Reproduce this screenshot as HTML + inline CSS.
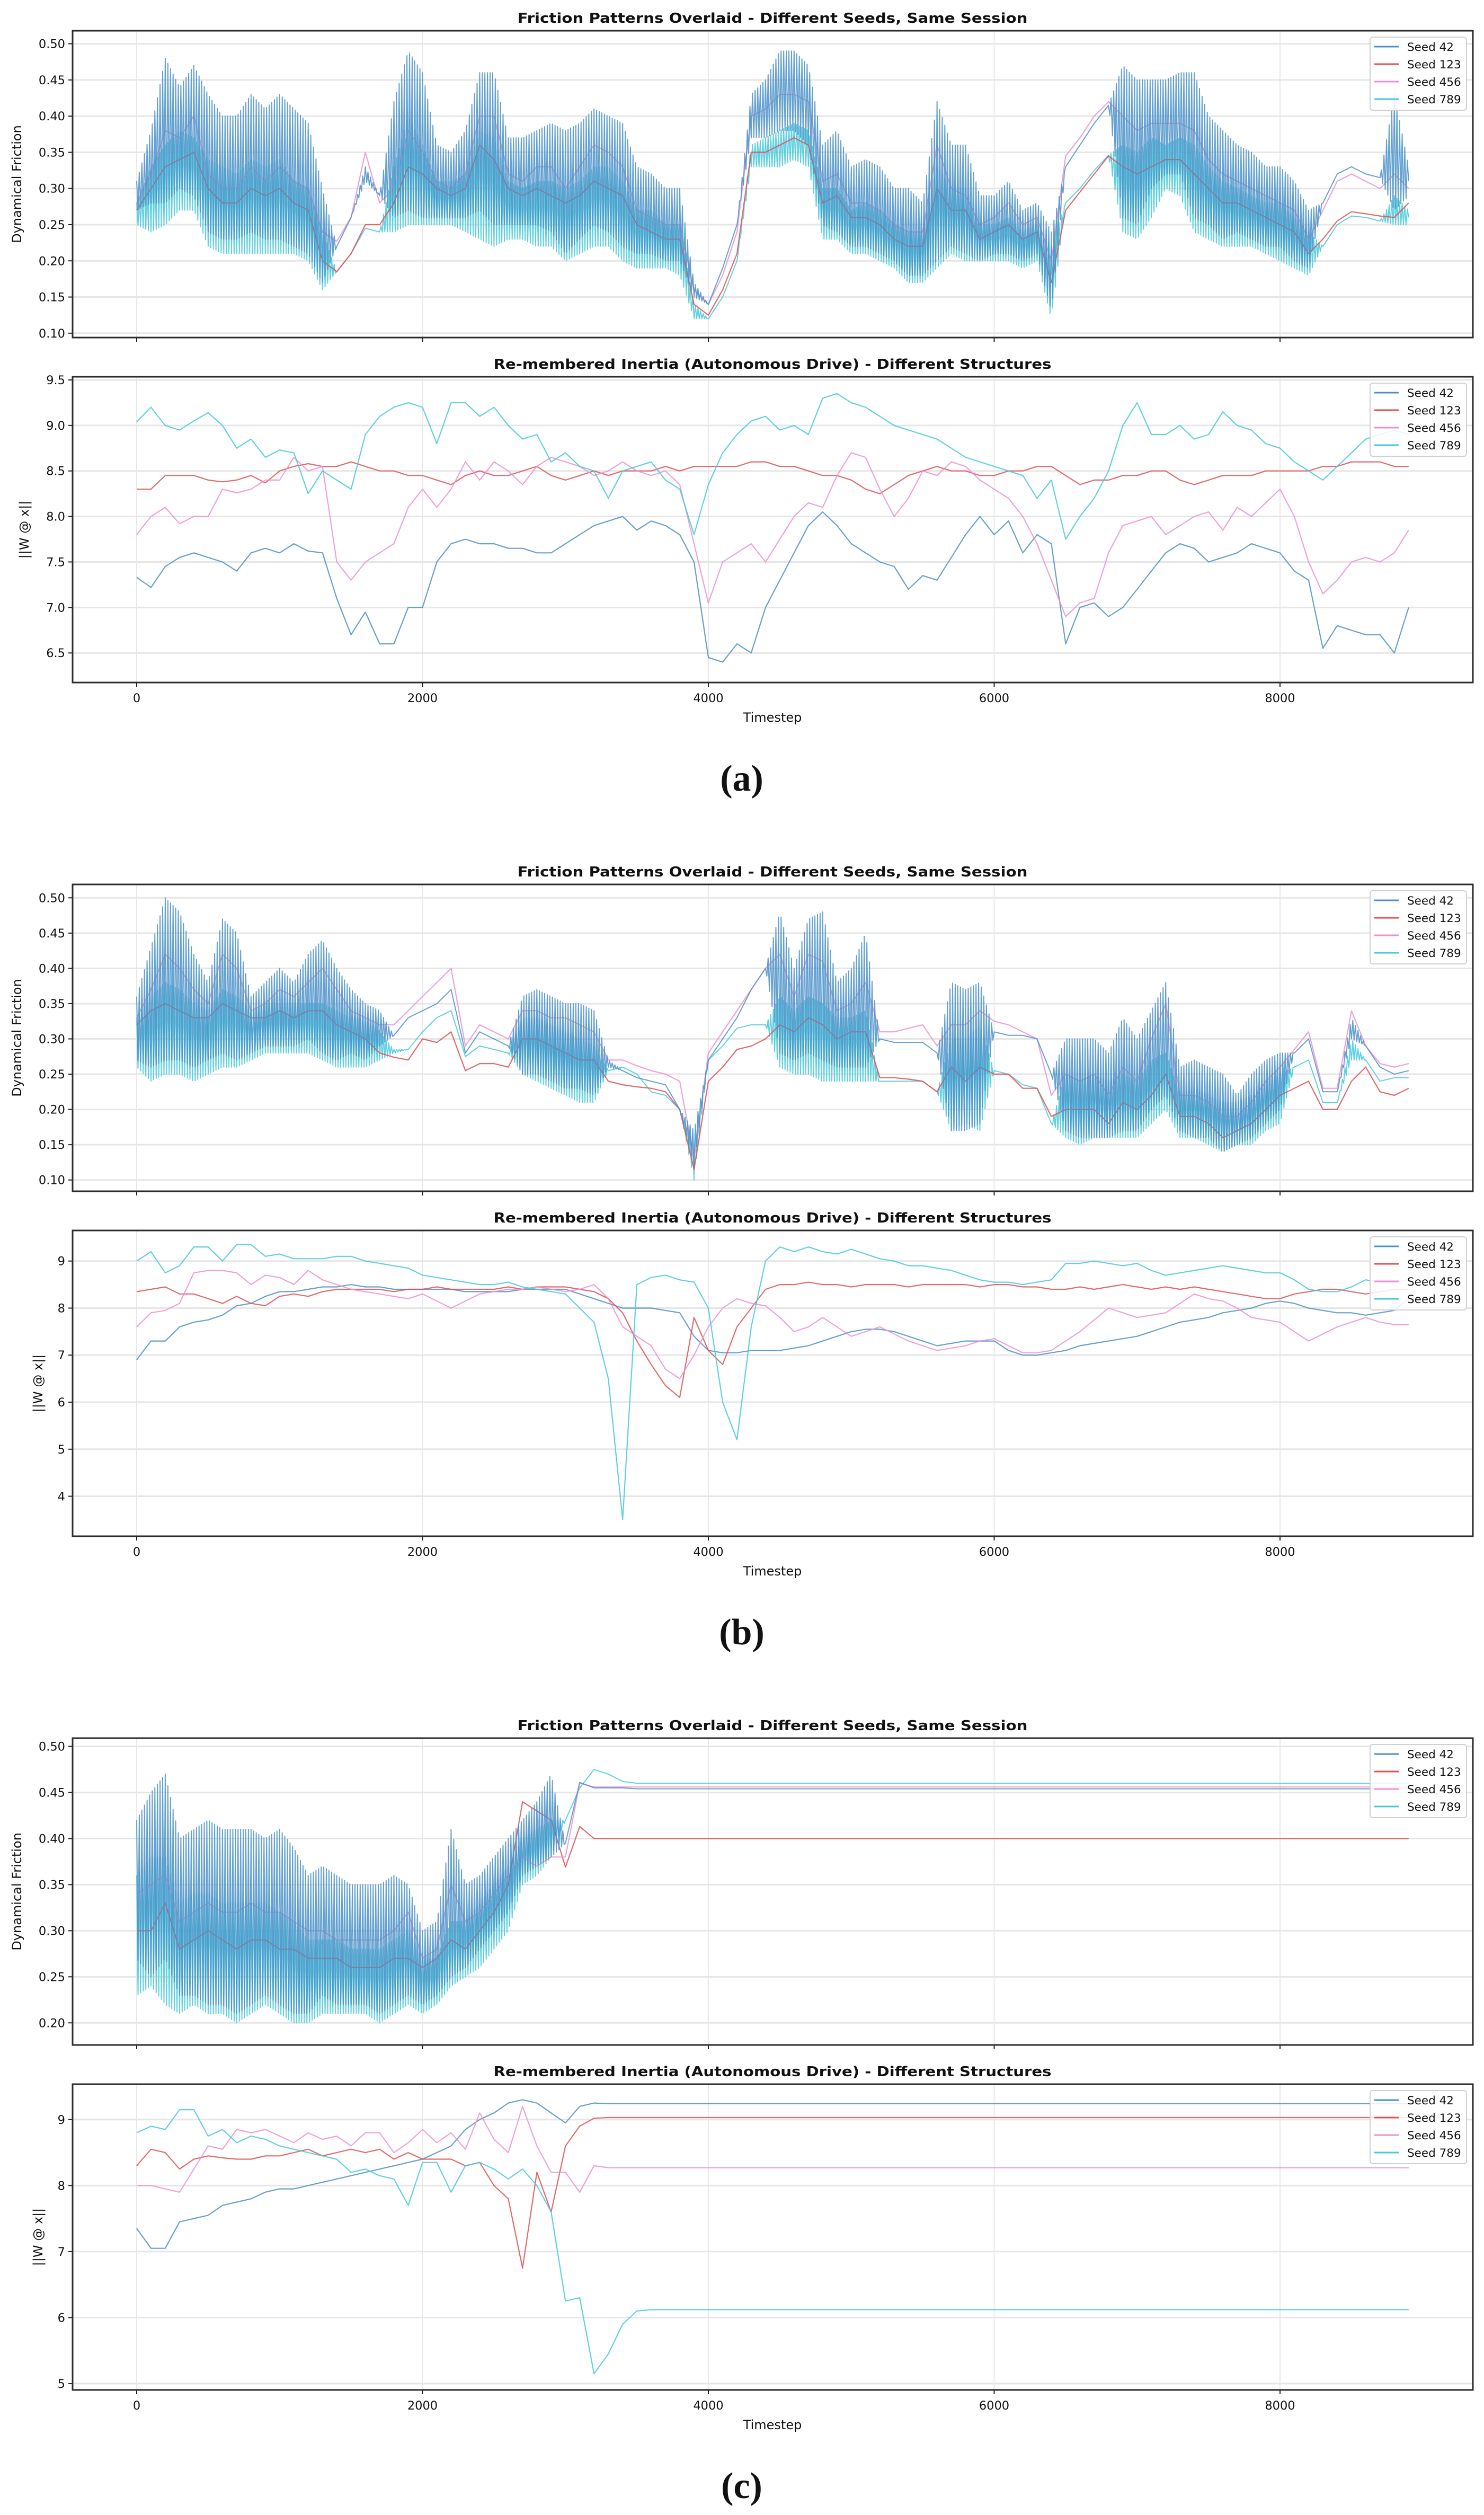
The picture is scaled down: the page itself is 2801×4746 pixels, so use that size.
<!DOCTYPE html>
<html><head><meta charset="utf-8"><style>
html,body{margin:0;padding:0;background:#fff;}
svg{display:block;}
text{font-family:"DejaVu Sans","Liberation Sans",sans-serif;fill:#111;}
</style></head><body>
<svg id="fig" xmlns="http://www.w3.org/2000/svg" width="2801" height="4746" viewBox="0 0 2801 4746"></svg>
<script>
const timesteps = Array.from({length:90},(_,i)=>i*100);
const seedNames = ["Seed 42","Seed 123","Seed 456","Seed 789"];
const panelLabels = ["(a)","(b)","(c)"];
const frictionTicks = [0.10,0.15,0.20,0.25,0.30,0.35,0.40,0.45,0.50];
const frictionTicksC = [0.20,0.25,0.30,0.35,0.40,0.45,0.50];
const inertiaTicksA = [6.5,7.0,7.5,8.0,8.5,9.0,9.5];
const inertiaTicksB = [4,5,6,7,8,9];
const inertiaTicksC = [5,6,7,8,9];
const xTicks = [0,2000,4000,6000,8000];

const aF_blueHi = [.31,.38,.48,.44,.47,.43,.40,.40,.43,.41,.43,.41,.39,.30,.22,.26,.33,.29,.42,.49,.46,.36,.35,.38,.46,.46,.37,.37,.38,.39,.38,.39,.41,.40,.39,.33,.32,.30,.30,.17,.14,.19,.25,.43,.45,.49,.49,.47,.36,.38,.33,.34,.33,.30,.30,.28,.42,.36,.36,.29,.29,.31,.27,.28,.24,.33,.36,.39,.415,.47,.45,.45,.45,.46,.46,.40,.38,.36,.35,.33,.33,.31,.27,.28,.32,.33,.32,.315,.43,.33];
const aF_blueLo = [.27,.28,.28,.30,.29,.24,.23,.23,.24,.23,.23,.22,.21,.17,.22,.26,.31,.29,.26,.27,.26,.26,.26,.26,.27,.25,.25,.25,.25,.24,.21,.23,.25,.24,.22,.21,.21,.20,.20,.15,.14,.19,.25,.37,.37,.38,.38,.36,.25,.24,.22,.22,.21,.20,.18,.18,.20,.22,.21,.20,.21,.21,.20,.21,.13,.33,.36,.39,.415,.26,.25,.30,.32,.32,.26,.25,.23,.24,.23,.22,.22,.20,.19,.28,.32,.33,.32,.315,.27,.29];
const aF_cyanHi = [.28,.33,.36,.38,.37,.34,.33,.32,.34,.33,.34,.31,.30,.24,.185,.21,.245,.24,.33,.40,.36,.31,.31,.32,.38,.37,.31,.30,.31,.31,.30,.31,.33,.33,.31,.27,.27,.25,.25,.14,.12,.15,.20,.36,.37,.38,.39,.38,.30,.30,.27,.28,.27,.25,.24,.24,.33,.30,.30,.25,.25,.26,.24,.25,.22,.28,.30,.325,.346,.36,.35,.37,.36,.37,.36,.33,.31,.30,.29,.28,.28,.26,.24,.22,.25,.262,.26,.255,.29,.27];
const aF_cyanLo = [.25,.24,.25,.27,.27,.22,.21,.21,.21,.21,.21,.21,.20,.16,.185,.21,.245,.24,.24,.25,.25,.25,.25,.24,.23,.22,.23,.23,.22,.22,.20,.21,.22,.22,.20,.19,.19,.19,.18,.12,.12,.15,.20,.33,.33,.33,.34,.33,.23,.23,.21,.21,.20,.19,.17,.17,.19,.21,.20,.20,.20,.20,.19,.20,.12,.28,.30,.325,.346,.24,.23,.26,.30,.29,.24,.23,.22,.22,.22,.21,.20,.19,.18,.22,.25,.262,.26,.255,.25,.25];
const aF_red = [.27,.30,.33,.34,.35,.30,.28,.28,.30,.29,.30,.28,.27,.20,.185,.21,.25,.25,.28,.33,.32,.30,.29,.30,.36,.34,.30,.29,.30,.29,.28,.29,.31,.30,.29,.25,.24,.23,.23,.14,.125,.16,.21,.35,.35,.36,.37,.36,.28,.29,.26,.26,.25,.23,.22,.22,.30,.27,.27,.23,.24,.25,.23,.24,.17,.27,.295,.32,.345,.33,.32,.33,.34,.34,.32,.30,.28,.28,.27,.26,.25,.24,.21,.23,.255,.268,.265,.262,.26,.28];
const aF_pink = [.28,.32,.38,.37,.40,.32,.30,.30,.33,.31,.33,.31,.30,.24,.227,.26,.35,.28,.30,.38,.35,.31,.30,.32,.40,.40,.32,.31,.33,.33,.30,.33,.36,.35,.33,.27,.26,.25,.25,.16,.14,.18,.24,.40,.41,.43,.43,.42,.31,.32,.28,.28,.27,.25,.24,.24,.36,.30,.29,.25,.26,.28,.25,.26,.20,.345,.37,.40,.42,.40,.38,.39,.39,.39,.38,.34,.32,.31,.30,.29,.28,.27,.23,.27,.31,.32,.31,.30,.32,.30];

const aI_blue = [7.33,7.22,7.45,7.55,7.6,7.55,7.5,7.4,7.6,7.65,7.6,7.7,7.62,7.6,7.1,6.7,6.95,6.6,6.6,7.0,7.0,7.5,7.7,7.75,7.7,7.7,7.65,7.65,7.6,7.6,7.7,7.8,7.9,7.95,8.0,7.85,7.95,7.9,7.8,7.5,6.45,6.4,6.6,6.5,7.0,7.3,7.6,7.9,8.05,7.9,7.7,7.6,7.5,7.45,7.2,7.35,7.3,7.55,7.8,8.0,7.8,7.95,7.6,7.8,7.7,6.6,7.0,7.05,6.9,7.0,7.2,7.4,7.6,7.7,7.65,7.5,7.55,7.6,7.7,7.65,7.6,7.4,7.3,6.55,6.8,6.75,6.7,6.7,6.5,7.0];
const aI_red = [8.3,8.3,8.45,8.45,8.45,8.4,8.38,8.4,8.45,8.37,8.5,8.55,8.58,8.55,8.55,8.6,8.55,8.5,8.5,8.45,8.45,8.4,8.35,8.45,8.5,8.45,8.45,8.5,8.55,8.45,8.4,8.45,8.5,8.45,8.5,8.5,8.5,8.55,8.5,8.55,8.55,8.55,8.55,8.6,8.6,8.55,8.55,8.5,8.45,8.45,8.4,8.3,8.25,8.35,8.45,8.5,8.55,8.5,8.5,8.45,8.45,8.5,8.5,8.55,8.55,8.45,8.35,8.4,8.4,8.45,8.45,8.5,8.5,8.4,8.35,8.4,8.45,8.45,8.45,8.5,8.5,8.5,8.5,8.55,8.55,8.6,8.6,8.6,8.55,8.55];
const aI_pink = [7.8,8.0,8.1,7.92,8.0,8.0,8.3,8.26,8.3,8.4,8.4,8.65,8.5,8.55,7.5,7.3,7.5,7.6,7.7,8.1,8.3,8.1,8.3,8.6,8.4,8.6,8.5,8.35,8.55,8.65,8.6,8.55,8.45,8.5,8.6,8.5,8.45,8.5,8.35,7.7,7.05,7.5,7.6,7.7,7.5,7.75,8.0,8.15,8.1,8.45,8.7,8.65,8.3,8.0,8.2,8.5,8.45,8.6,8.55,8.4,8.3,8.2,8.0,7.7,7.3,6.9,7.05,7.1,7.6,7.9,7.95,8.0,7.8,7.9,8.0,8.05,7.85,8.1,8.0,8.15,8.3,8.0,7.5,7.15,7.3,7.5,7.55,7.5,7.6,7.85];
const aI_cyan = [9.04,9.2,9.0,8.95,9.05,9.14,9.0,8.75,8.85,8.65,8.73,8.7,8.25,8.5,8.4,8.3,8.9,9.1,9.2,9.25,9.2,8.8,9.25,9.25,9.1,9.2,9.0,8.85,8.9,8.6,8.7,8.55,8.5,8.2,8.5,8.55,8.6,8.4,8.3,7.8,8.35,8.7,8.9,9.05,9.1,8.95,9.0,8.9,9.3,9.35,9.25,9.2,9.1,9.0,8.95,8.9,8.85,8.75,8.65,8.6,8.55,8.5,8.45,8.2,8.4,7.75,8.0,8.2,8.5,9.0,9.25,8.9,8.9,9.0,8.85,8.9,9.15,9.0,8.95,8.8,8.75,8.6,8.5,8.4,8.55,8.7,8.85,8.9,8.95,8.9];

const bF_blueHi = [.36,.43,.50,.48,.42,.38,.47,.45,.36,.38,.40,.38,.42,.44,.40,.37,.35,.34,.305,.33,.34,.35,.37,.28,.31,.30,.29,.36,.37,.36,.35,.35,.34,.27,.255,.245,.24,.235,.20,.17,.27,.30,.33,.37,.40,.48,.40,.47,.48,.38,.40,.45,.30,.295,.295,.295,.28,.38,.37,.38,.31,.305,.305,.30,.25,.30,.30,.30,.28,.33,.30,.34,.38,.26,.27,.26,.25,.22,.25,.27,.28,.28,.30,.225,.225,.33,.29,.26,.25,.255];
const bF_blueLo = [.27,.26,.27,.27,.26,.27,.28,.27,.28,.29,.29,.29,.30,.28,.27,.28,.27,.29,.305,.33,.34,.35,.37,.28,.31,.30,.29,.25,.25,.24,.23,.23,.22,.26,.255,.245,.24,.235,.20,.12,.27,.30,.33,.37,.40,.28,.27,.28,.27,.26,.26,.26,.30,.295,.295,.295,.28,.17,.17,.18,.31,.305,.305,.30,.25,.17,.16,.16,.16,.17,.17,.20,.22,.17,.16,.16,.14,.15,.16,.18,.20,.28,.30,.225,.225,.30,.29,.26,.25,.255];
const bF_cyanHi = [.33,.36,.38,.37,.35,.34,.37,.36,.34,.35,.35,.35,.35,.35,.34,.33,.33,.31,.285,.285,.31,.33,.34,.275,.29,.285,.28,.33,.33,.32,.31,.30,.29,.255,.26,.25,.225,.22,.20,.15,.27,.29,.315,.32,.32,.36,.34,.36,.35,.33,.33,.34,.24,.24,.24,.24,.225,.30,.30,.32,.255,.25,.235,.23,.18,.25,.24,.25,.24,.25,.24,.27,.28,.22,.23,.22,.21,.21,.22,.24,.25,.26,.27,.21,.21,.30,.27,.24,.245,.245];
const bF_cyanLo = [.26,.24,.25,.25,.24,.25,.26,.26,.27,.28,.28,.28,.28,.27,.26,.26,.26,.27,.28,.285,.31,.33,.34,.275,.29,.285,.28,.25,.24,.23,.22,.21,.21,.255,.26,.25,.225,.22,.20,.10,.27,.29,.315,.32,.32,.26,.25,.25,.24,.24,.24,.24,.24,.24,.24,.24,.225,.17,.18,.17,.255,.25,.235,.23,.18,.16,.15,.16,.16,.16,.16,.18,.20,.16,.16,.15,.14,.15,.15,.17,.18,.26,.27,.21,.21,.27,.27,.24,.245,.245];
const bF_red = [.32,.34,.35,.34,.33,.33,.35,.34,.33,.33,.34,.33,.34,.34,.32,.31,.30,.28,.274,.27,.30,.295,.31,.255,.265,.265,.26,.30,.30,.29,.28,.27,.27,.24,.235,.232,.23,.225,.20,.115,.24,.26,.285,.29,.30,.32,.31,.33,.32,.30,.31,.31,.245,.245,.243,.24,.225,.26,.24,.26,.25,.25,.23,.23,.19,.20,.20,.20,.18,.21,.20,.22,.25,.19,.19,.18,.16,.17,.18,.20,.22,.23,.24,.20,.20,.24,.26,.225,.22,.23];
const bF_pink = [.33,.37,.42,.40,.37,.35,.42,.40,.34,.35,.37,.36,.38,.40,.37,.34,.33,.32,.32,.34,.36,.38,.40,.29,.32,.31,.30,.34,.34,.33,.33,.32,.31,.27,.27,.262,.255,.25,.24,.13,.28,.31,.34,.37,.40,.42,.36,.42,.41,.34,.35,.38,.31,.31,.315,.32,.29,.32,.32,.34,.325,.32,.31,.30,.22,.25,.24,.25,.22,.26,.24,.30,.35,.22,.22,.21,.19,.19,.21,.24,.26,.285,.31,.23,.23,.34,.29,.265,.26,.265];

const bI_blue = [6.9,7.3,7.3,7.6,7.7,7.75,7.85,8.05,8.1,8.25,8.35,8.35,8.4,8.45,8.45,8.5,8.45,8.45,8.4,8.4,8.4,8.4,8.4,8.35,8.35,8.35,8.35,8.4,8.4,8.4,8.4,8.3,8.2,8.1,8.0,8.0,8.0,7.95,7.9,7.4,7.1,7.05,7.05,7.1,7.1,7.1,7.15,7.2,7.3,7.4,7.5,7.55,7.55,7.5,7.4,7.3,7.2,7.25,7.3,7.3,7.3,7.1,7.0,7.0,7.05,7.1,7.2,7.25,7.3,7.35,7.4,7.5,7.6,7.7,7.75,7.8,7.9,7.95,8.0,8.1,8.15,8.1,8.0,7.95,7.9,7.9,7.85,7.9,7.95,8.2];
const bI_red = [8.35,8.4,8.45,8.3,8.3,8.2,8.1,8.25,8.1,8.05,8.25,8.3,8.25,8.35,8.4,8.4,8.4,8.4,8.35,8.4,8.4,8.45,8.4,8.4,8.4,8.4,8.45,8.4,8.45,8.45,8.45,8.4,8.35,8.2,7.9,7.3,6.8,6.35,6.1,7.8,7.1,6.8,7.6,8.0,8.4,8.5,8.5,8.55,8.5,8.5,8.45,8.5,8.5,8.5,8.45,8.5,8.5,8.5,8.5,8.45,8.5,8.5,8.45,8.45,8.4,8.4,8.45,8.4,8.45,8.5,8.45,8.4,8.45,8.4,8.45,8.4,8.35,8.3,8.25,8.2,8.2,8.3,8.35,8.4,8.4,8.35,8.3,8.35,8.4,8.4];
const bI_pink = [7.6,7.9,7.95,8.1,8.75,8.8,8.8,8.75,8.5,8.7,8.65,8.5,8.8,8.6,8.5,8.4,8.35,8.3,8.25,8.2,8.3,8.15,8.0,8.15,8.3,8.35,8.4,8.4,8.45,8.4,8.35,8.4,8.5,8.2,7.6,7.4,7.2,6.7,6.5,7.0,7.6,8.0,8.2,8.1,8.05,7.8,7.5,7.6,7.8,7.6,7.4,7.5,7.6,7.45,7.3,7.2,7.1,7.15,7.2,7.3,7.35,7.2,7.05,7.05,7.1,7.3,7.5,7.75,8.0,7.9,7.8,7.85,7.9,8.1,8.3,8.2,8.15,8.0,7.8,7.75,7.7,7.5,7.3,7.45,7.6,7.7,7.8,7.7,7.65,7.65];
const bI_cyan = [9.0,9.2,8.75,8.9,9.3,9.3,9.0,9.35,9.35,9.1,9.15,9.05,9.05,9.05,9.1,9.1,9.0,8.95,8.9,8.85,8.7,8.65,8.6,8.55,8.5,8.5,8.55,8.45,8.4,8.35,8.3,8.0,7.7,6.5,3.5,8.5,8.65,8.7,8.6,8.55,8.0,6.0,5.2,7.6,9.0,9.3,9.2,9.3,9.2,9.15,9.25,9.15,9.05,9.0,8.9,8.9,8.85,8.8,8.7,8.6,8.55,8.55,8.5,8.55,8.6,8.95,8.95,9.0,8.95,8.9,8.95,8.8,8.7,8.75,8.8,8.85,8.9,8.85,8.8,8.75,8.75,8.6,8.4,8.35,8.35,8.45,8.6,8.55,8.55,8.6];

const cF_blueHi = [.42,.45,.47,.40,.41,.42,.41,.41,.41,.40,.41,.39,.36,.37,.36,.35,.35,.35,.36,.35,.30,.31,.41,.35,.36,.38,.40,.42,.44,.47,.395,.461,.455,.455,.455,.454,.454,.454,.454,.454,.454,.454,.454,.454,.454,.454,.454,.454,.454,.454,.454,.454,.454,.454,.454,.454,.454,.454,.454,.454,.454,.454,.454,.454,.454,.454,.454,.454,.454,.454,.454,.454,.454,.454,.454,.454,.454,.454,.454,.454,.454,.454,.454,.454,.454,.454,.454,.454,.454,.454];
const cF_blueLo = [.27,.25,.27,.23,.23,.22,.22,.21,.22,.23,.22,.21,.21,.23,.22,.22,.22,.21,.22,.23,.22,.23,.25,.26,.28,.30,.32,.36,.37,.38,.395,.461,.455,.455,.455,.454,.454,.454,.454,.454,.454,.454,.454,.454,.454,.454,.454,.454,.454,.454,.454,.454,.454,.454,.454,.454,.454,.454,.454,.454,.454,.454,.454,.454,.454,.454,.454,.454,.454,.454,.454,.454,.454,.454,.454,.454,.454,.454,.454,.454,.454,.454,.454,.454,.454,.454,.454,.454,.454,.454];
const cF_cyanHi = [.36,.38,.38,.33,.34,.34,.33,.33,.33,.33,.32,.31,.29,.29,.29,.28,.28,.28,.29,.30,.27,.27,.31,.31,.33,.35,.37,.40,.41,.42,.42,.455,.475,.47,.462,.46,.46,.46,.46,.46,.46,.46,.46,.46,.46,.46,.46,.46,.46,.46,.46,.46,.46,.46,.46,.46,.46,.46,.46,.46,.46,.46,.46,.46,.46,.46,.46,.46,.46,.46,.46,.46,.46,.46,.46,.46,.46,.46,.46,.46,.46,.46,.46,.46,.46,.46,.46,.46,.46,.46];
const cF_cyanLo = [.23,.24,.22,.21,.22,.21,.21,.20,.21,.22,.21,.20,.20,.21,.21,.21,.21,.20,.21,.22,.21,.22,.24,.25,.26,.28,.30,.35,.36,.38,.42,.455,.475,.47,.462,.46,.46,.46,.46,.46,.46,.46,.46,.46,.46,.46,.46,.46,.46,.46,.46,.46,.46,.46,.46,.46,.46,.46,.46,.46,.46,.46,.46,.46,.46,.46,.46,.46,.46,.46,.46,.46,.46,.46,.46,.46,.46,.46,.46,.46,.46,.46,.46,.46,.46,.46,.46,.46,.46,.46];
const cF_red = [.30,.30,.33,.28,.29,.30,.29,.28,.29,.29,.28,.28,.27,.27,.27,.26,.26,.26,.27,.27,.26,.27,.29,.28,.30,.32,.35,.44,.43,.42,.369,.413,.40,.40,.40,.40,.40,.40,.40,.40,.40,.40,.40,.40,.40,.40,.40,.40,.40,.40,.40,.40,.40,.40,.40,.40,.40,.40,.40,.40,.40,.40,.40,.40,.40,.40,.40,.40,.40,.40,.40,.40,.40,.40,.40,.40,.40,.40,.40,.40,.40,.40,.40,.40,.40,.40,.40,.40,.40,.40];
const cF_pink = [.34,.35,.36,.31,.32,.33,.32,.32,.33,.32,.32,.31,.30,.30,.29,.29,.29,.29,.30,.32,.27,.28,.35,.31,.32,.34,.36,.38,.37,.38,.38,.46,.456,.456,.456,.456,.456,.456,.456,.456,.456,.456,.456,.456,.456,.456,.456,.456,.456,.456,.456,.456,.456,.456,.456,.456,.456,.456,.456,.456,.456,.456,.456,.456,.456,.456,.456,.456,.456,.456,.456,.456,.456,.456,.456,.456,.456,.456,.456,.456,.456,.456,.456,.456,.456,.456,.456,.456,.456,.456];

const cI_blue = [7.35,7.05,7.05,7.45,7.5,7.55,7.7,7.75,7.8,7.9,7.95,7.95,8.0,8.05,8.1,8.15,8.2,8.25,8.3,8.35,8.4,8.5,8.6,8.85,9.0,9.1,9.25,9.3,9.25,9.1,8.95,9.2,9.25,9.24,9.24,9.24,9.24,9.24,9.24,9.24,9.24,9.24,9.24,9.24,9.24,9.24,9.24,9.24,9.24,9.24,9.24,9.24,9.24,9.24,9.24,9.24,9.24,9.24,9.24,9.24,9.24,9.24,9.24,9.24,9.24,9.24,9.24,9.24,9.24,9.24,9.24,9.24,9.24,9.24,9.24,9.24,9.24,9.24,9.24,9.24,9.24,9.24,9.24,9.24,9.24,9.24,9.24,9.24,9.24,9.24];
const cI_red = [8.3,8.55,8.5,8.25,8.4,8.45,8.42,8.4,8.4,8.45,8.45,8.5,8.55,8.45,8.5,8.55,8.5,8.55,8.4,8.5,8.4,8.4,8.4,8.3,8.35,8.0,7.8,6.75,8.2,7.6,8.6,8.9,9.02,9.03,9.03,9.03,9.03,9.03,9.03,9.03,9.03,9.03,9.03,9.03,9.03,9.03,9.03,9.03,9.03,9.03,9.03,9.03,9.03,9.03,9.03,9.03,9.03,9.03,9.03,9.03,9.03,9.03,9.03,9.03,9.03,9.03,9.03,9.03,9.03,9.03,9.03,9.03,9.03,9.03,9.03,9.03,9.03,9.03,9.03,9.03,9.03,9.03,9.03,9.03,9.03,9.03,9.03,9.03,9.03,9.03];
const cI_pink = [8.0,8.0,7.95,7.9,8.25,8.6,8.55,8.85,8.8,8.85,8.75,8.65,8.8,8.7,8.75,8.6,8.8,8.8,8.5,8.65,8.85,8.65,8.8,8.55,9.1,8.7,8.5,9.2,8.6,8.2,8.2,7.9,8.3,8.27,8.27,8.27,8.27,8.27,8.27,8.27,8.27,8.27,8.27,8.27,8.27,8.27,8.27,8.27,8.27,8.27,8.27,8.27,8.27,8.27,8.27,8.27,8.27,8.27,8.27,8.27,8.27,8.27,8.27,8.27,8.27,8.27,8.27,8.27,8.27,8.27,8.27,8.27,8.27,8.27,8.27,8.27,8.27,8.27,8.27,8.27,8.27,8.27,8.27,8.27,8.27,8.27,8.27,8.27,8.27,8.27];
const cI_cyan = [8.8,8.9,8.85,9.15,9.15,8.75,8.85,8.65,8.75,8.7,8.6,8.55,8.5,8.45,8.4,8.2,8.25,8.15,8.1,7.7,8.35,8.35,7.9,8.3,8.35,8.25,8.1,8.25,8.0,7.6,6.25,6.3,5.15,5.45,5.9,6.1,6.12,6.12,6.12,6.12,6.12,6.12,6.12,6.12,6.12,6.12,6.12,6.12,6.12,6.12,6.12,6.12,6.12,6.12,6.12,6.12,6.12,6.12,6.12,6.12,6.12,6.12,6.12,6.12,6.12,6.12,6.12,6.12,6.12,6.12,6.12,6.12,6.12,6.12,6.12,6.12,6.12,6.12,6.12,6.12,6.12,6.12,6.12,6.12,6.12,6.12,6.12,6.12,6.12,6.12];

const NS = "http://www.w3.org/2000/svg";
const svg = document.getElementById('fig');
const COL = {blue:"#4a90c8", red:"#e05050", pink:"#ec90d0", cyan:"#45c8da"};
const X0 = 137, X1 = 2780;
const xScale = t => 258 + t * 0.26975;

function mk(tag, attrs, parent){
  const e = document.createElementNS(NS, tag);
  for (const k in attrs) e.setAttribute(k, attrs[k]);
  (parent || svg).appendChild(e);
  return e;
}
function txt(str, attrs, parent){
  const e = mk('text', attrs, parent);
  e.textContent = str;
  return e;
}

function drawAxes(g, top, bot, ymin, ymax, ticks, fmt, ylabel, ylabelX, title, titleLen, prefix){
  const yS = v => bot - (v - ymin) / (ymax - ymin) * (bot - top);
  xTicks.forEach(t => {
    const l = mk('line', {x1:xScale(t), x2:xScale(t), y1:top, y2:bot, stroke:"#e8e8e8", "stroke-width":2}, g);
    
    
  });
  ticks.forEach(v => {
    const l = mk('line', {x1:X0, x2:X1, y1:yS(v), y2:yS(v), stroke:"#e6e6e6", "stroke-width":3}, g);
    
    
    const tk = mk('line', {x1:X0-8, x2:X0, y1:yS(v), y2:yS(v), stroke:"#222", "stroke-width":2}, g);
    
    
    const lb = txt(fmt(v), {x:X0-14, y:yS(v)+8, "font-size":22.5, "text-anchor":"end"}, g);
    
    
  });
  xTicks.forEach(t => {
    const tk = mk('line', {x1:xScale(t), x2:xScale(t), y1:bot, y2:bot+8, stroke:"#222", "stroke-width":2}, g);
    
    
  });
  const yl = txt(ylabel, {x:0, y:0, "font-size":24, "text-anchor":"middle", transform:`translate(${ylabelX},${(top+bot)/2}) rotate(-90)`}, g);
  
  
  const tt = txt(title, {x:1458, y:top-15, "font-size":26, "font-weight":"bold", "text-anchor":"middle", textLength:titleLen, lengthAdjust:"spacingAndGlyphs"}, g);
  
  
  return yS;
}
function frame(g, top, bot){
  const r = mk('rect', {x:X0, y:top, width:X1-X0, height:bot-top, fill:"none", stroke:"#2b2b2b", "stroke-width":3}, g);
  
  
}
function legend(g, top){
  const lg = mk('g', {}, g);
  
  
  const bx = mk('rect', {x:2586, y:top+12, width:182, height:138, rx:5, fill:"#fff", "fill-opacity":0.85, stroke:"#d0d0d0", "stroke-width":2}, lg);
  
  
  const cols = [COL.blue, COL.red, COL.pink, COL.cyan];
  seedNames.forEach((n, i) => {
    const y = top + 30 + i * 33;
    const ln = mk('line', {x1:2594, x2:2640, y1:y, y2:y, stroke:cols[i], "stroke-width":3}, lg);
    
    
    const t = txt(n, {x:2656, y:y+8, "font-size":21.5}, lg);
    
    
  });
}
function pathFrom(vals, yS){
  return vals.map((v, i) => (i ? 'L' : 'M') + xScale(timesteps[i]).toFixed(1) + ',' + yS(v).toFixed(1)).join('');
}
function band(g, hi, lo, yS, color, name){
  const SUB = 11;
  let d = '';
  for (let i = 0; i < hi.length - 1; i++) {
    for (let s = 0; s < SUB; s++) {
      const f = s / SUB;
      const t = timesteps[i] + (timesteps[i+1] - timesteps[i]) * f;
      const h = hi[i] + (hi[i+1] - hi[i]) * f;
      const l = lo[i] + (lo[i+1] - lo[i]) * f;
      const v = ((i * SUB + s) % 2 === 0) ? h : l;
      d += (d ? 'L' : 'M') + xScale(t).toFixed(1) + ',' + yS(v).toFixed(1);
    }
  }
  const n = hi.length - 1;
  d += 'L' + xScale(timesteps[n]).toFixed(1) + ',' + yS((hi[n] + lo[n]) / 2).toFixed(1);
  const p = mk('path', {d:d, fill:"none", stroke:color, "stroke-width":2.0, "stroke-opacity":0.85, "stroke-linejoin":"round"}, g);
  
  
}
function line(g, vals, yS, color, name){
  const p = mk('path', {d:pathFrom(vals, yS), fill:"none", stroke:color, "stroke-width":2.2, "stroke-opacity":0.85, "stroke-linejoin":"round"}, g);
  
  
}

const fmt2 = v => v.toFixed(2), fmt1 = v => v.toFixed(1), fmt0 = v => v.toFixed(0);
const panels = [
  {fr:[aF_blueHi,aF_blueLo,aF_cyanHi,aF_cyanLo,aF_red,aF_pink], fy:[0.094,0.518], fticks:frictionTicks,
   in:[aI_blue,aI_red,aI_pink,aI_cyan], iy:[6.175,9.535], iticks:inertiaTicksA, ifmt:fmt1, ilx:54},
  {fr:[bF_blueHi,bF_blueLo,bF_cyanHi,bF_cyanLo,bF_red,bF_pink], fy:[0.084,0.519], fticks:frictionTicks,
   in:[bI_blue,bI_red,bI_pink,bI_cyan], iy:[3.15,9.65], iticks:inertiaTicksB, ifmt:fmt0, ilx:80},
  {fr:[cF_blueHi,cF_blueLo,cF_cyanHi,cF_cyanLo,cF_red,cF_pink], fy:[0.176,0.509], fticks:frictionTicksC,
   in:[cI_blue,cI_red,cI_pink,cI_cyan], iy:[4.904,9.536], iticks:inertiaTicksC, ifmt:fmt0, ilx:80}
];
panels.forEach((P, k) => {
  const off = k * 1611;
  const pg = mk('g', {});
  
  
  const t1 = 58 + off, b1 = 637 + off;
  const g1 = mk('g', {}, pg);
  
  
  const yF = drawAxes(g1, t1, b1, P.fy[0], P.fy[1], P.fticks, fmt2, "Dynamical Friction", 40,
    "Friction Patterns Overlaid - Different Seeds, Same Session", 963, 'friction-chart');
  const s1 = mk('g', {}, g1);
  
  
  band(s1, P.fr[2], P.fr[3], yF, COL.cyan, 'seed-789-friction');
  line(s1, P.fr[4], yF, COL.red, 'seed-123-friction');
  line(s1, P.fr[5], yF, COL.pink, 'seed-456-friction');
  band(s1, P.fr[0], P.fr[1], yF, COL.blue, 'seed-42-friction');
  frame(g1, t1, b1);
  legend(g1, t1);
  const t2 = 711 + off, b2 = 1288 + off;
  const g2 = mk('g', {}, pg);
  
  
  const yI = drawAxes(g2, t2, b2, P.iy[0], P.iy[1], P.iticks, P.ifmt, "||W @ x||", P.ilx,
    "Re-membered Inertia (Autonomous Drive) - Different Structures", 1053, 'inertia-chart');
  const s2 = mk('g', {}, g2);
  
  
  line(s2, P.in[0], yI, COL.blue, 'seed-42-inertia');
  line(s2, P.in[1], yI, COL.red, 'seed-123-inertia');
  line(s2, P.in[2], yI, COL.pink, 'seed-456-inertia');
  line(s2, P.in[3], yI, COL.cyan, 'seed-789-inertia');
  frame(g2, t2, b2);
  legend(g2, t2);
  xTicks.forEach(t => {
    const lb = txt(String(t), {x:xScale(t), y:b2+37, "font-size":22.5, "text-anchor":"middle"}, g2);
    
    
  });
  const xl = txt("Timestep", {x:1458, y:b2+74, "font-size":24, "text-anchor":"middle"}, g2);
  
  
  const pl = txt(panelLabels[k], {x:1400, y:1492 + off, "font-size":70, "font-weight":"bold", "text-anchor":"middle", style:'font-family:"Liberation Serif",serif'}, pg);
  
  
});
</script>
</body></html>
